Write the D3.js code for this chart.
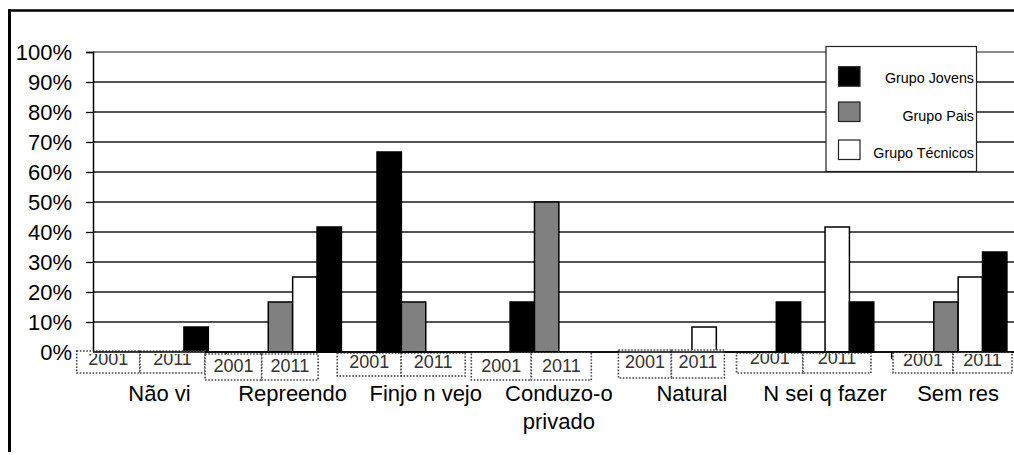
<!DOCTYPE html>
<html>
<head>
<meta charset="utf-8">
<script src="https://cdn.jsdelivr.net/npm/d3@7"></script>
<style>
  html, body { margin: 0; padding: 0; background: #fff; }
  svg { display: block; font-family: "Liberation Sans", Arial, sans-serif; }
</style>
</head>
<body>
<svg id="chart" width="1014" height="455"></svg>
<script>
// ---------- data ----------
const categories = ["Não vi", "Repreendo", "Finjo n vejo", "Conduzo-o privado", "Natural", "N sei q fazer", "Sem res"];
const seriesNames = ["Grupo Jovens", "Grupo Pais", "Grupo Técnicos", "Grupo Jovens "];
const jovensA   = [0, 0, 66.67, 16.67, 0, 16.67, 0];
const pais      = [0, 16.67, 16.67, 50, 0, 0, 16.67];
const tecnicos  = [0, 25, 0, 0, 8.33, 41.67, 25];
const jovensB   = [8.33, 41.67, 0, 0, 0, 16.67, 33.33];
const yearLabels = ["2001", "2011"];
const yTickValues = [0, 10, 20, 30, 40, 50, 60, 70, 80, 90, 100];
const legendNames = ["Grupo Jovens", "Grupo Pais", "Grupo Técnicos"];

// ---------- layout / style ----------
const fills = ["#000000", "#808080", "#ffffff", "#000000"];
const plotLeft = 93, plotRight = 1024.7, plotTop = 52, plotBottom = 352;
// year-label boxes per category, offsets relative to category start: [left, mid, right, top, bottom, baseline]
const yearBoxLayout = [
  [-16.3, 47, 112, 351, 373, 365],
  [-21, 35.6, 92, 354, 380, 372],
  [-22, 42, 106, 353, 376, 368],
  [-21, 39, 99, 352, 380, 372],
  [-7, 46, 99, 350, 378, 368],
  [-22, 44.5, 112.5, 353, 373, 364],
  [1.4, 61.4, 120.4, 352, 373, 366]
];

const seriesValues = [jovensA, pais, tecnicos, jovensB];
const rows = categories.map((c, i) => ({
  cat: c,
  vals: seriesNames.map((s, k) => ({ key: s, k, v: seriesValues[k][i] }))
}));

const svg = d3.select("#chart");

const x0 = d3.scaleBand().domain(categories).range([plotLeft, plotRight]).paddingInner(0).paddingOuter(0);
const x1 = d3.scaleBand().domain(seriesNames).range([0, x0.bandwidth()]).paddingInner(0).paddingOuter(0.73);
const y = d3.scaleLinear().domain([0, 100]).range([plotBottom, plotTop]);

// outer frame
svg.append("line").attr("x1", 8).attr("x2", 1014).attr("y1", 10.5).attr("y2", 10.5)
  .attr("stroke", "#000").attr("stroke-width", 2.5);
svg.append("line").attr("x1", 9.5).attr("x2", 9.5).attr("y1", 9).attr("y2", 452)
  .attr("stroke", "#000").attr("stroke-width", 3);

// gridlines
svg.append("g").selectAll("line").data(yTickValues.filter(d => d > 0)).join("line")
  .attr("x1", plotLeft).attr("x2", 1014)
  .attr("y1", d => y(d)).attr("y2", d => y(d))
  .attr("stroke", d => d === 100 ? "#8a8a8a" : "#1a1a1a")
  .attr("stroke-width", d => d === 100 ? 2 : 1.3);

// y axis
const yAxis = d3.axisLeft(y).tickValues(yTickValues).tickSize(7).tickPadding(14)
  .tickFormat(d => d + "%");
const gy = svg.append("g").attr("transform", `translate(${plotLeft},0)`).call(yAxis);
gy.select(".domain").attr("stroke", "#000").attr("stroke-width", 1.5);
gy.selectAll(".tick line").attr("stroke", "#000").attr("stroke-width", 1.3);
gy.selectAll(".tick text").attr("font-size", 22).attr("fill", "#000")
  .attr("font-family", "Liberation Sans, Arial, sans-serif").attr("dy", "0.36em");

// bars
const catG = svg.append("g").selectAll("g").data(rows).join("g")
  .attr("transform", d => `translate(${x0(d.cat)},0)`);
catG.selectAll("rect").data(d => d.vals.filter(e => e.v > 0)).join("rect")
  .attr("x", d => x1(d.key))
  .attr("width", x1.bandwidth())
  .attr("y", d => y(d.v))
  .attr("height", d => y(0) - y(d.v))
  .attr("fill", d => fills[d.k])
  .attr("stroke", "#000").attr("stroke-width", 1.5);

// x axis line & category boundary ticks
svg.append("line").attr("x1", plotLeft).attr("x2", 1014).attr("y1", plotBottom).attr("y2", plotBottom)
  .attr("stroke", "#000").attr("stroke-width", 1.5);
svg.append("g").selectAll("line").data(categories).join("line")
  .attr("x1", d => x0(d)).attr("x2", d => x0(d))
  .attr("y1", plotBottom).attr("y2", plotBottom + 7)
  .attr("stroke", "#000").attr("stroke-width", 1.3);

// year label boxes
const yearG = svg.append("g");
categories.forEach((c, i) => {
  const L = yearBoxLayout[i];
  const cx = x0(c);
  const edges = [cx + L[0], cx + L[1], cx + L[2]];
  yearLabels.forEach((yl, j) => {
    const bx = edges[j], bw = edges[j + 1] - edges[j];
    yearG.append("rect").attr("x", bx).attr("y", L[3]).attr("width", bw).attr("height", L[4] - L[3])
      .attr("fill", "#fff").attr("stroke", "#444").attr("stroke-width", 1.6)
      .attr("stroke-dasharray", "1.6,1.6");
  });
});
svg.append("defs").append("clipPath").attr("id", "belowAxis")
  .append("rect").attr("x", 0).attr("y", plotBottom + 2).attr("width", 1014).attr("height", 100);
const yearText = svg.append("g").attr("clip-path", "url(#belowAxis)");
categories.forEach((c, i) => {
  const L = yearBoxLayout[i];
  const cx = x0(c);
  const edges = [cx + L[0], cx + L[1], cx + L[2]];
  yearLabels.forEach((yl, j) => {
    yearText.append("text").attr("x", (edges[j] + edges[j + 1]) / 2).attr("y", L[5])
      .attr("text-anchor", "middle").attr("font-size", 18).attr("fill", "#333")
      .text(yl);
  });
});
// redraw axis line over year boxes
svg.append("line").attr("x1", plotLeft).attr("x2", 1014).attr("y1", plotBottom).attr("y2", plotBottom)
  .attr("stroke", "#000").attr("stroke-width", 1.5);

// category labels (wrapped when wider than the band)
const catLabels = svg.append("g");
categories.forEach(c => {
  const cxm = x0(c) + x0.bandwidth() / 2;
  const t = catLabels.append("text").attr("x", cxm).attr("y", 401)
    .attr("text-anchor", "middle").attr("font-size", 22).attr("fill", "#000").text(c);
  if (t.node().getComputedTextLength() > x0.bandwidth()) {
    const words = c.split(" ");
    t.text(null);
    words.forEach((w, wi) => {
      t.append("tspan").attr("x", cxm).attr("dy", wi === 0 ? 0 : 28).text(w);
    });
  }
});

// legend
const lg = svg.append("g");
lg.append("rect").attr("x", 826).attr("y", 46.5).attr("width", 150.5).attr("height", 125)
  .attr("fill", "#fff").attr("stroke", "#222").attr("stroke-width", 1.2);
const legendY = [66.7, 102, 140];
const legendBase = [82.5, 120.5, 158];
legendNames.forEach((n, k) => {
  lg.append("rect").attr("x", 838.5).attr("y", legendY[k]).attr("width", 21.5).attr("height", 19.5)
    .attr("fill", fills[k]).attr("stroke", "#222").attr("stroke-width", 1.2);
  lg.append("text").attr("x", 974).attr("y", legendBase[k]).attr("text-anchor", "end")
    .attr("font-size", 14.3).attr("fill", "#000").text(n);
});
</script>
</body>
</html>
